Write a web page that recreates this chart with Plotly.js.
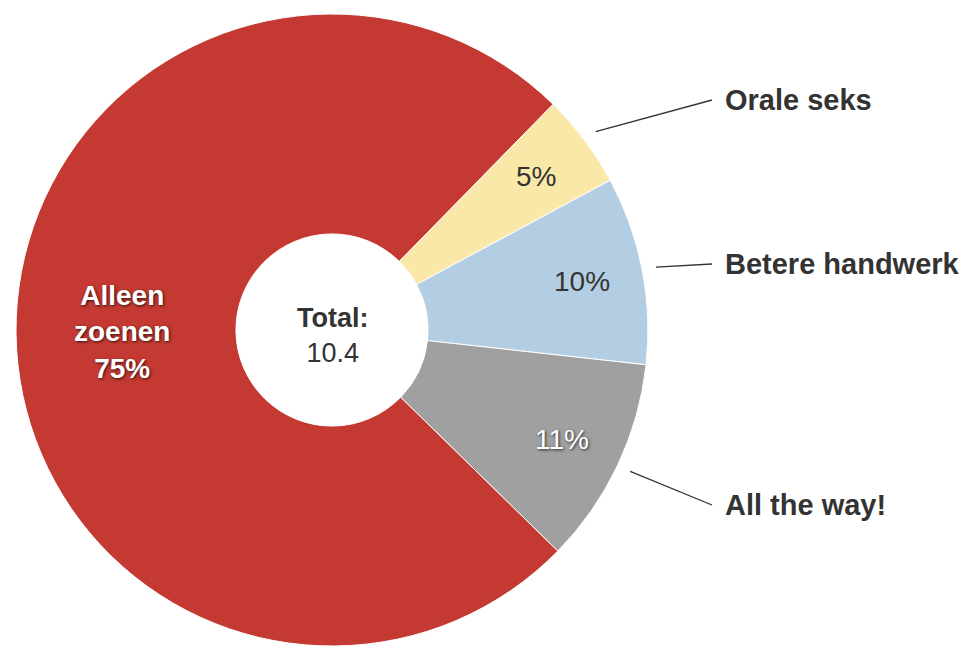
<!DOCTYPE html>
<html>
<head>
<meta charset="utf-8">
<script src="https://cdn.plot.ly/plotly-3.0.1.min.js"></script>
<style>
  html, body { margin: 0; padding: 0; background: #fff; }
  #chart { width: 964px; height: 646px; }
</style>
</head>
<body>
<div id="chart"></div>
<script>
// ---- data ----
const categories = ["Orale seks", "Betere handwerk", "All the way!", "Alleen zoenen"];
const values = [0.5, 1.0, 1.1, 7.8];
const sliceColors = ["#F9E8A8", "#B3CEE3", "#A0A0A0", "#C43A32"];
const insideLabelPrefix = ["", "", "", "<b>Alleen<br>zoenen<br>"];
const insideLabelSuffix = ["", "", "", "</b>"];
const insideTextColors = ["#333333", "#333333", "#ffffff", "#ffffff"];
const outsideLabelled = [true, true, true, false];
const labelY = [100, 264, 505];        // pixel y of outside labels
const totalLabel = "Total:";

// ---- layout constants ----
const W = 964, H = 646;
const cx = 332, cy = 330, R = 316;     // pie centre and radius in px
const FONT = "'Liberation Sans', Arial, Helvetica, sans-serif";
const rotation = 44.4;
const SHADOW = "1px 1px 3px rgba(0,0,0,0.75)";

const total = values.reduce((a, b) => a + b, 0);

const trace = {
  type: "pie",
  labels: categories,
  values: values,
  sort: false,
  direction: "clockwise",
  rotation: rotation,
  hole: 0.304,
  marker: { colors: sliceColors, line: { color: "#ffffff", width: 1 } },
  textinfo: "none",
  hoverinfo: "label+percent",
  showlegend: false,
  domain: { x: [(cx - R) / W, (cx + R) / W], y: [Math.max(0, 1 - (cy + R) / H), 1 - (cy - R) / H] }
};

// labels and leader lines computed from the data angles
const shapes = [];
const annotations = [];
let cum = 0;
let li = 0;
for (let i = 0; i < values.length; i++) {
  const mid = rotation + (cum + values[i] / 2) / total * 360;
  cum += values[i];
  const a = mid * Math.PI / 180;
  const pct = Math.round(values[i] / total * 100) + "%";
  const big = !outsideLabelled[i];
  const rt = big ? 210 : 255;
  annotations.push({
    xref: "paper", yref: "paper",
    x: (cx + rt * Math.sin(a)) / W, y: 1 - (cy - rt * Math.cos(a)) / H,
    xanchor: "center", yanchor: "middle", showarrow: false,
    text: insideLabelPrefix[i] + pct + insideLabelSuffix[i],
    font: {
      family: FONT, size: big ? 28 : 28, color: insideTextColors[i],
      shadow: insideTextColors[i] === "#ffffff" ? SHADOW : "none"
    }
  });
  if (!outsideLabelled[i]) continue;
  const r0 = R + 14;
  const x0 = cx + r0 * Math.sin(a);
  const y0 = cy - r0 * Math.cos(a);
  const x1 = 712, y1 = labelY[li];
  shapes.push({
    type: "line", xref: "paper", yref: "paper",
    x0: x0 / W, y0: 1 - y0 / H, x1: x1 / W, y1: 1 - y1 / H,
    line: { color: "#333333", width: 1.3 }
  });
  annotations.push({
    xref: "paper", yref: "paper", x: 723 / W, y: 1 - y1 / H,
    xanchor: "left", yanchor: "middle", showarrow: false,
    text: "<b>" + categories[i] + "</b>",
    font: { family: FONT, size: 29, color: "#333333" }
  });
  li++;
}
annotations.push({
  xref: "paper", yref: "paper", x: cx / W, y: 1 - (cy + 5) / H,
  xanchor: "center", yanchor: "middle", showarrow: false,
  text: "<b>" + totalLabel + "</b><br>" + total.toFixed(1),
  font: { family: FONT, size: 27, color: "#333333" }
});

const layout = {
  width: W, height: H,
  margin: { l: 0, r: 0, t: 0, b: 0 },
  paper_bgcolor: "#ffffff",
  showlegend: false,
  shapes: shapes,
  annotations: annotations
};

Plotly.newPlot("chart", [trace], layout, { displayModeBar: false, staticPlot: true });
</script>
</body>
</html>
